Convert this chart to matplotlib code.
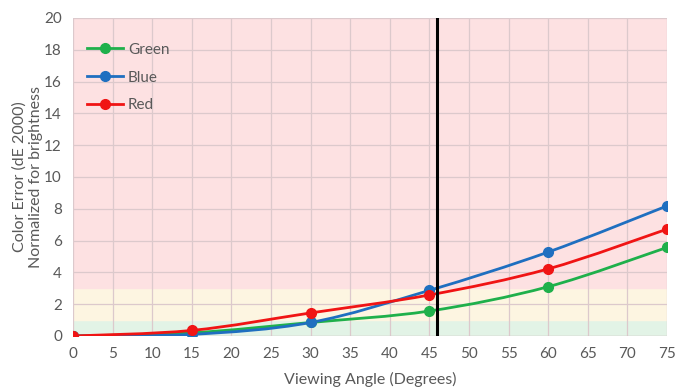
import numpy as np
import matplotlib.pyplot as plt
from matplotlib.path import Path
from matplotlib.patches import PathPatch

plt.rcParams['font.family'] = ['Lato', 'DejaVu Sans']

# données
angles = [0, 15, 30, 45, 60, 75]
green = [0, 0.2, 0.85, 1.57, 3.1, 5.57]
blue = [0, 0.1, 0.85, 2.87, 5.28, 8.18]
red = [0, 0.35, 1.45, 2.58, 4.22, 6.72]
series = [("Green", green, "#1fb04b"), ("Blue", blue, "#1f6fc0"), ("Red", red, "#f01414")]
cutoff = 46

def smooth_path(x, y, t=1/6):
    # courbe lissée façon Excel (Catmull-Rom -> Bézier)
    x = np.asarray(x, float); y = np.asarray(y, float)
    verts = [(x[0], y[0])]
    codes = [Path.MOVETO]
    n = len(x)
    for i in range(n - 1):
        p0 = i - 1 if i > 0 else i
        p3 = i + 2 if i + 2 < n else i + 1
        c1 = (x[i] + (x[i+1] - x[p0]) * t, y[i] + (y[i+1] - y[p0]) * t)
        c2 = (x[i+1] - (x[p3] - x[i]) * t, y[i+1] - (y[p3] - y[i]) * t)
        verts += [c1, c2, (x[i+1], y[i+1])]
        codes += [Path.CURVE4] * 3
    return Path(verts, codes)

fig = plt.figure(figsize=(6.92, 3.9), dpi=100)
ax = fig.add_axes([0.1055, 0.1385, 0.8585, 0.8155])

# zones de couleur
ax.axhspan(0, 1, color="#e2f3e6", zorder=0)
ax.axhspan(1, 3, color="#fdf5e1", zorder=0)
ax.axhspan(3, 20, color="#fde1e2", zorder=0)

ax.set_xlim(0, 75)
ax.set_ylim(0, 20)
ax.set_xticks(range(0, 80, 5))
ax.set_yticks(range(0, 22, 2))
ax.grid(True, color="#dcc9cc", linewidth=0.9, zorder=1)
ax.set_axisbelow(True)
for s in ax.spines.values():
    s.set_visible(False)
ax.axhline(0, color="#c8c0c0", linewidth=0.9, zorder=1)
ax.tick_params(length=0, colors="#595959", labelsize=11, pad=8)

for name, vals, col in series:
    ax.add_patch(PathPatch(smooth_path(angles, vals), facecolor="none",
                           edgecolor=col, linewidth=2.0, zorder=3))
    ax.plot(angles, vals, linestyle="none", marker="o", markersize=7,
            color=col, zorder=4)
    ax.plot([], [], color=col, linewidth=2.0, marker="o", markersize=7, label=name)

ax.axvline(cutoff, color="black", linewidth=2.2, zorder=5)

ax.legend(loc="upper left", bbox_to_anchor=(0.0, 0.965), frameon=False,
          fontsize=11, labelcolor="#595959", handlelength=2.4,
          handletextpad=0.3, labelspacing=0.9)

ax.set_xlabel("Viewing Angle (Degrees)", color="#595959", fontsize=11.5, labelpad=8)
ax.set_ylabel("Color Error (dE 2000)\nNormalized for brightness", color="#595959",
              fontsize=11.5, labelpad=1)

fig.savefig("out.png", dpi=100)
